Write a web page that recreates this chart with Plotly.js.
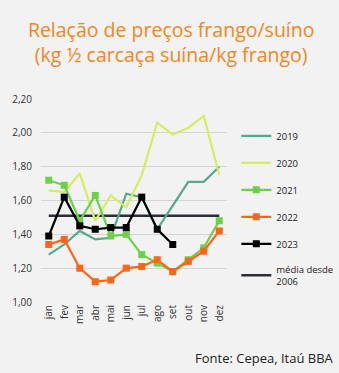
<!DOCTYPE html>
<html><head><meta charset="utf-8">
<script src="https://cdn.plot.ly/plotly-3.0.1.min.js"></script>
<style>html,body{margin:0;padding:0;background:#f2f2f2;}#c{width:339px;height:373px;}</style>
</head><body><div id="c"></div>
<script>
const months = ["jan","fev","mar","abr","mai","jun","jul","ago","set","out","nov","dez"];
const y2019 = [1.28,1.34,1.42,1.37,1.38,1.64,1.62,1.43,1.57,1.71,1.71,1.80];
const y2020 = [1.66,1.65,1.76,1.48,1.63,1.56,1.75,2.06,1.99,2.03,2.10,1.75];
const y2021 = [1.72,1.69,1.48,1.63,1.39,1.40,1.28,1.23,1.18,1.25,1.32,1.48];
const y2022 = [1.34,1.37,1.20,1.12,1.13,1.20,1.21,1.25,1.18,1.24,1.30,1.42];
const y2023 = [1.39,1.62,1.45,1.43,1.44,1.44,1.62,1.43,1.34];
const media = 1.51;
const mediaY = months.map(() => media);

const font = "Open Sans, sans-serif";
const traces = [
  {name:"2019", y:y2019, color:"#55aa8c", marker:false},
  {name:"2020", y:y2020, color:"#d6ec62", marker:false},
  {name:"2021", y:y2021, color:"#6cd048", marker:true},
  {name:"2022", y:y2022, color:"#ff6418", marker:true},
  {name:"2023", y:y2023, color:"#000000", marker:true},
  {name:"média desde<br>2006", y:mediaY, color:"#2b2d38", marker:false}
].map((t,i) => ({
  type:"scatter",
  x: months.slice(0, t.y.length),
  y: t.y,
  name: t.name,
  legendgroup: "g"+i,
  legendrank: (i+1)*10,
  mode: t.marker ? "lines+markers" : "lines",
  line:{color:t.color, width: (i===5?2.5:2.2)},
  marker:{symbol:"square", size:7, color:t.color}
}));
const order = [5,0,1,2,3,4];
const data = order.map(i => traces[i]);

const layout = {
  width:339, height:373,
  paper_bgcolor:"#f2f2f2", plot_bgcolor:"#f2f2f2",
  margin:{l:41, r:112, t:99, b:71, autoexpand:false},
  font:{family:font, color:"#333333", size:10},
  separators:",.",
  title:{text:"Relação de preços frango/suíno<br>(kg ½ carcaça suína/kg frango)",
         font:{family:font, size:19.5, color:"#f0871e"},
         x:0.505, xanchor:"center", y:0.902, yanchor:"middle"},
  xaxis:{type:"category", range:[-0.5,11.5], tickangle:-90, showgrid:false,
         showline:false, zeroline:false, ticks:"", tickfont:{size:10, color:"#333"}, fixedrange:true},
  yaxis:{range:[1.0,2.2], dtick:0.2, tick0:1.0, tickformat:".2f", showgrid:true,
         gridcolor:"#d4d4d4", gridwidth:1, zeroline:false, showline:false, ticks:"",
         ticklabelstandoff:8, tickfont:{size:10, color:"#333"}, fixedrange:true},
  showlegend:true,
  legend:{x:1.05, xanchor:"left", y:0.89, yanchor:"top", traceorder:"grouped",
          tracegroupgap:8, itemwidth:30, font:{size:9.5, color:"#222"}, bgcolor:"rgba(0,0,0,0)"},
  annotations:[{text:"Fonte: Cepea, Itaú BBA", xref:"paper", yref:"paper", x:0, xshift:152, y:0, yshift:-56,
                xanchor:"left", yanchor:"middle", showarrow:false, font:{size:13, color:"#222"}}]
};
Plotly.newPlot("c", data, layout, {displayModeBar:false, staticPlot:true});
</script></body></html>
